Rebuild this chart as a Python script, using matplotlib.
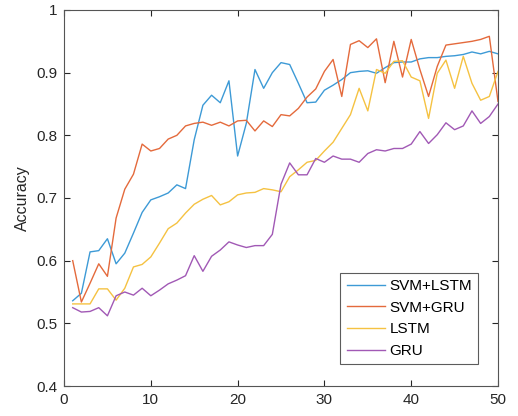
import matplotlib.pyplot as plt

plt.rcParams['font.family'] = ['Liberation Sans', 'DejaVu Sans']

# epochs 1..50
epochs = list(range(1, 51))

svm_lstm = [0.536, 0.548, 0.614, 0.616, 0.635, 0.595, 0.612, 0.644, 0.677, 0.697,
            0.702, 0.708, 0.721, 0.715, 0.793, 0.848, 0.864, 0.852, 0.887, 0.767,
            0.819, 0.905, 0.875, 0.900, 0.916, 0.913, 0.883, 0.852, 0.853, 0.872,
            0.880, 0.889, 0.900, 0.902, 0.903, 0.899, 0.908, 0.916, 0.917, 0.917,
            0.922, 0.924, 0.924, 0.926, 0.927, 0.929, 0.933, 0.930, 0.934, 0.930]

svm_gru = [0.600, 0.534, 0.564, 0.595, 0.575, 0.668, 0.714, 0.738, 0.786, 0.775,
           0.779, 0.794, 0.800, 0.815, 0.819, 0.821, 0.816, 0.821, 0.815, 0.823,
           0.824, 0.807, 0.823, 0.814, 0.833, 0.831, 0.843, 0.861, 0.874, 0.902,
           0.921, 0.862, 0.945, 0.951, 0.940, 0.954, 0.884, 0.950, 0.893, 0.953,
           0.905, 0.862, 0.910, 0.944, 0.946, 0.948, 0.950, 0.953, 0.958, 0.854]

lstm = [0.531, 0.531, 0.531, 0.555, 0.555, 0.537, 0.556, 0.590, 0.594, 0.606,
        0.628, 0.651, 0.660, 0.676, 0.690, 0.698, 0.704, 0.689, 0.694, 0.705,
        0.708, 0.709, 0.715, 0.713, 0.710, 0.734, 0.745, 0.757, 0.760, 0.775,
        0.789, 0.811, 0.833, 0.875, 0.839, 0.905, 0.899, 0.918, 0.919, 0.893,
        0.887, 0.827, 0.899, 0.920, 0.875, 0.926, 0.883, 0.856, 0.862, 0.902]

gru = [0.525, 0.518, 0.519, 0.525, 0.512, 0.544, 0.550, 0.545, 0.556, 0.544,
       0.553, 0.563, 0.569, 0.576, 0.608, 0.583, 0.607, 0.617, 0.630, 0.625,
       0.621, 0.624, 0.624, 0.642, 0.722, 0.756, 0.737, 0.737, 0.763, 0.757,
       0.767, 0.762, 0.762, 0.757, 0.771, 0.777, 0.775, 0.779, 0.779, 0.786,
       0.806, 0.787, 0.801, 0.820, 0.809, 0.815, 0.839, 0.819, 0.830, 0.850]

names = ["SVM+LSTM", "SVM+GRU", "LSTM", "GRU"]
colors = ['#3d9ad6', '#e46a3c', '#f5c242', '#a159b5']

fig = plt.figure(figsize=(5.18, 4.16), dpi=100)
ax = fig.add_axes([0.1236, 0.0721, 0.8378, 0.9039])

for series, name, c in zip([svm_lstm, svm_gru, lstm, gru], names, colors):
    ax.plot(epochs, series, color=c, linewidth=1.0, label=name)

ax.set_xlim(0, 50)
ax.set_ylim(0.4, 1.0)
ax.set_xticks([0, 10, 20, 30, 40, 50])
ax.set_yticks([0.4, 0.5, 0.6, 0.7, 0.8, 0.9, 1.0])
ax.set_yticklabels(['0.4', '0.5', '0.6', '0.7', '0.8', '0.9', '1'])
ax.set_ylabel('Accuracy', fontsize=11.5, color='#262626')

ax.tick_params(direction='in', top=True, right=True, length=4, width=0.8,
               labelsize=11, colors='#262626', pad=5)
for s in ax.spines.values():
    s.set_color('#555555')
    s.set_linewidth(0.8)

leg = ax.legend(loc='lower right', bbox_to_anchor=(0.954, 0.0585), borderaxespad=0,
                fontsize=11, frameon=True, fancybox=False, handlelength=2.5,
                labelspacing=0.5, borderpad=0.4, handletextpad=0.3)
leg.get_frame().set_edgecolor('#333333')
leg.get_frame().set_linewidth(0.8)

fig.savefig('out.png', dpi=100)
